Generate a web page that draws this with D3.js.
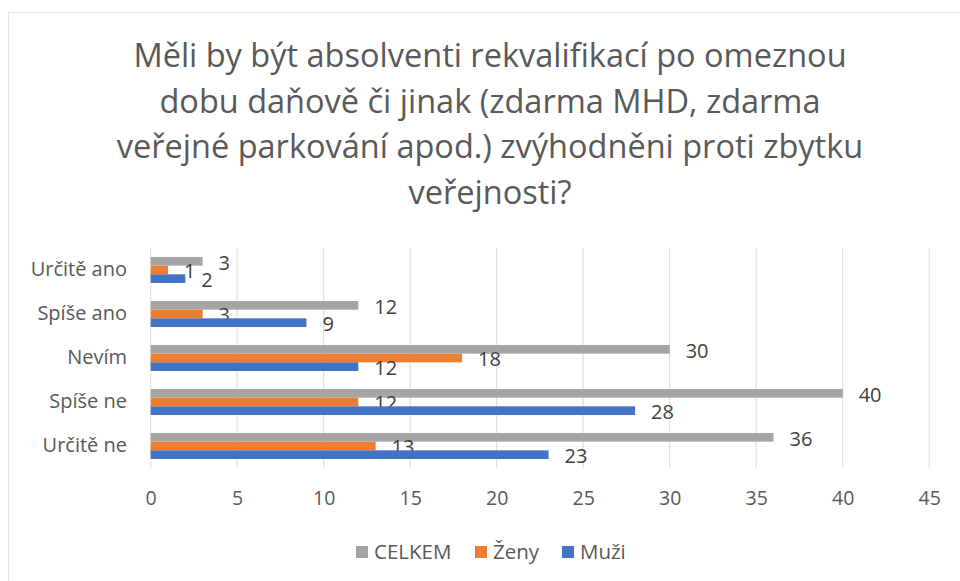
<!DOCTYPE html>
<html>
<head>
<meta charset="utf-8">
<script src="https://cdn.jsdelivr.net/npm/d3@7"></script>
<style>
  body { margin: 0; background: #fff; }
  text { font-family: "Open Sans", sans-serif; }
</style>
</head>
<body>
<svg width="960" height="581"></svg>
<script>
// data
var categories = ["Určitě ano", "Spíše ano", "Nevím", "Spíše ne", "Určitě ne"];
var seriesNames = ["CELKEM", "Ženy", "Muži"];
var celkem = [3, 12, 30, 40, 36];
var zeny = [1, 3, 18, 12, 13];
var muzi = [2, 9, 12, 28, 23];
var xTicks = [0, 5, 10, 15, 20, 25, 30, 35, 40, 45];
var titleLines = [
  "Měli by být absolventi rekvalifikací po omeznou",
  "dobu daňově či jinak (zdarma MHD, zdarma",
  "veřejné parkování apod.) zvýhodněni proti zbytku",
  "veřejnosti?"
];

var colors = { "CELKEM": "#A5A5A5", "Ženy": "#ED7D31", "Muži": "#4472C4" };
var values = { "CELKEM": celkem, "Ženy": zeny, "Muži": muzi };

var svg = d3.select("svg");

// chart border (only top/left edges visible in the crop)
svg.append("rect")
  .attr("x", 8.5).attr("y", 12.5)
  .attr("width", 1000).attr("height", 1000)
  .attr("fill", "none")
  .attr("stroke", "#e3e3e3");

// TITLE
var title = svg.append("g").attr("class", "title");
title.selectAll("text")
  .data(titleLines)
  .enter().append("text")
  .attr("x", 490)
  .attr("y", function(d, i) { return 67 + i * 45.5; })
  .attr("text-anchor", "middle")
  .attr("font-size", 32.5)
  .attr("fill", "#595959")
  .text(function(d) { return d; });

// SCALES
var x = d3.scaleLinear().domain([0, 45]).range([150.7, 929.2]);
var y = d3.scaleBand().domain(categories).range([248, 468])
  .paddingInner(0.41).paddingOuter(0.205);
var ySub = d3.scaleBand().domain(seriesNames).range([0, y.bandwidth()]);

// gridlines
svg.append("g").attr("class", "grid")
  .selectAll("line")
  .data(xTicks)
  .enter().append("line")
  .attr("x1", function(d) { return x(d); })
  .attr("x2", function(d) { return x(d); })
  .attr("y1", 248).attr("y2", 468)
  .attr("stroke", "#d9d9d9")
  .attr("stroke-width", 1);

// x axis labels
var xAxis = d3.axisBottom(x).tickValues(xTicks).tickSize(0).tickPadding(0);
var xg = svg.append("g")
  .attr("transform", "translate(0,493.5)")
  .call(xAxis);
xg.select(".domain").remove();
xg.selectAll("text")
  .attr("font-family", "Open Sans, sans-serif")
  .attr("font-size", 19.5)
  .attr("fill", "#595959")
  .attr("dy", "0.6em");

// y axis labels
var yAxis = d3.axisLeft(y).tickSize(0).tickPadding(0);
var yg = svg.append("g")
  .attr("transform", "translate(127,0)")
  .call(yAxis);
yg.select(".domain").remove();
yg.selectAll("text")
  .attr("font-family", "Open Sans, sans-serif")
  .attr("font-size", 20)
  .attr("fill", "#595959");

// BARS
var groups = svg.append("g").attr("class", "bars")
  .selectAll("g")
  .data(categories)
  .enter().append("g")
  .attr("transform", function(d) { return "translate(0," + y(d) + ")"; });

var cells = groups.selectAll("g.cell")
  .data(function(c, i) {
    return seriesNames.map(function(s) { return { cat: c, series: s, value: values[s][i] }; });
  })
  .enter().append("g")
  .attr("class", "cell");

cells.append("rect")
  .attr("x", x(0))
  .attr("y", function(d) { return ySub(d.series); })
  .attr("width", function(d) { return x(d.value) - x(0); })
  .attr("height", ySub.bandwidth())
  .attr("fill", function(d) { return colors[d.series]; });

cells.append("text")
  .attr("x", function(d) { return x(d.value) + 16; })
  .attr("y", function(d) { return ySub(d.series) + ySub.bandwidth() / 2 + 1.5; })
  .attr("dy", "0.35em")
  .attr("font-size", 20)
  .attr("fill", "#404040")
  .text(function(d) { return d.value; });

// LEGEND
var legendX = [356, 475, 562];
var legend = svg.append("g").attr("class", "legend")
  .selectAll("g")
  .data(seriesNames)
  .enter().append("g")
  .attr("transform", function(d, i) { return "translate(" + legendX[i] + ",546)"; });
legend.append("rect")
  .attr("width", 12).attr("height", 12)
  .attr("fill", function(d) { return colors[d]; });
legend.append("text")
  .attr("x", 18).attr("y", 6)
  .attr("dy", "0.35em")
  .attr("font-size", 20.5)
  .attr("fill", "#595959")
  .text(function(d) { return d; });
</script>
</body>
</html>
